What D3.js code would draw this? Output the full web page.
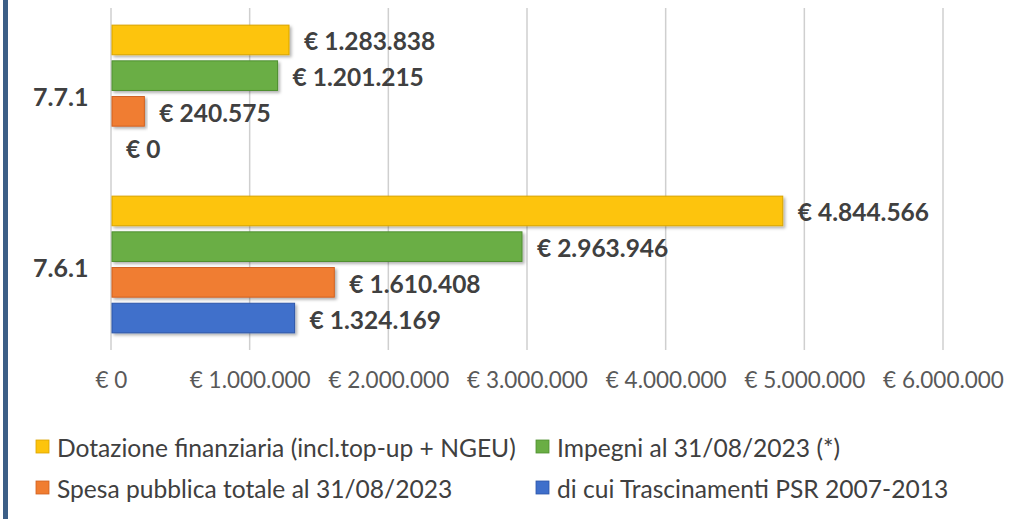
<!DOCTYPE html>
<html>
<head>
<meta charset="utf-8">
<script src="https://cdn.jsdelivr.net/npm/d3@7"></script>
<style>
  html, body { margin: 0; padding: 0; background: #fff; }
  svg { display: block; font-family: Lato, "Open Sans", sans-serif; }
</style>
</head>
<body>
<script>
// chart values
var categories = ["7.7.1", "7.6.1"];
var seriesNames = [
  "Dotazione finanziaria (incl.top-up + NGEU)",
  "Impegni al 31/08/2023 (*)",
  "Spesa pubblica totale al 31/08/2023",
  "di cui Trascinamenti PSR 2007-2013"
];
var dotazione = [1283838, 4844566];
var impegni = [1201215, 2963946];
var spesa = [240575, 1610408];
var trascinamenti = [0, 1324169];
var tickValues = [0, 1000000, 2000000, 3000000, 4000000, 5000000, 6000000];

var colors = ["#fdc40c", "#6aae44", "#f07d31", "#3f6fcb"];
var strokes = ["#d9a400", "#4f8f30", "#cf6020", "#2d56a8"];

var series = [dotazione, impegni, spesa, trascinamenti];

var w = 1025, h = 519;

var it = d3.formatLocale({decimal: ",", thousands: ".", grouping: [3], currency: ["€ ", ""]});
var euro = it.format("$,d");

var svg = d3.select("body")
  .append("svg")
  .attr("width", w)
  .attr("height", h);

// shadow for bars
var defs = svg.append("defs");
var f = defs.append("filter").attr("id", "shadow")
  .attr("x", "-5%").attr("y", "-20%").attr("width", "115%").attr("height", "160%");
f.append("feDropShadow")
  .attr("dx", 2).attr("dy", 2)
  .attr("stdDeviation", 1.5)
  .attr("flood-color", "#000")
  .attr("flood-opacity", 0.3);

// left frame strip
svg.append("rect")
  .attr("x", 3).attr("y", 0)
  .attr("width", 5).attr("height", h)
  .attr("fill", "#3c5f87");

var x = d3.scaleLinear()
  .domain([0, 6000000])
  .range([111, 943]);

var y = d3.scaleBand()
  .domain(categories)
  .range([8, 350]);

var inner = d3.scaleBand()
  .domain(d3.range(series.length))
  .range([0, y.bandwidth()])
  .paddingInner(0.17)
  .paddingOuter(0.48);

// gridlines
svg.append("g")
  .selectAll("line")
  .data(tickValues)
  .enter()
  .append("line")
  .attr("x1", function(d) { return x(d); })
  .attr("x2", function(d) { return x(d); })
  .attr("y1", 8)
  .attr("y2", 350)
  .attr("stroke", "#cfcfcf")
  .attr("stroke-width", 1.5);

// x axis labels
var xAxis = d3.axisBottom(x)
  .tickValues(tickValues)
  .tickSize(0)
  .tickPadding(0)
  .tickFormat(euro);

svg.append("g")
  .attr("transform", "translate(0,372)")
  .call(xAxis)
  .call(function(g) { g.select(".domain").remove(); })
  .selectAll("text")
  .attr("font-family", "Lato, sans-serif")
  .attr("font-size", "22.5px")
  .attr("fill", "#595959");

// category labels
svg.selectAll("text.cat")
  .data(categories)
  .enter()
  .append("text")
  .attr("class", "cat")
  .text(function(d) { return d; })
  .attr("x", 33)
  .attr("y", function(d) { return y(d) + y.bandwidth() / 2 + 2; })
  .attr("dominant-baseline", "central")
  .attr("font-size", "25px")
  .attr("font-weight", "bold")
  .attr("fill", "#404040");

// bars
var groups = svg.selectAll("g.series")
  .data(series)
  .enter()
  .append("g")
  .attr("class", "series");

groups.selectAll("rect")
  .data(function(d, si) {
    return d.map(function(v, ci) { return {s: si, c: categories[ci], v: v}; });
  })
  .enter()
  .append("rect")
  .filter(function(d) { return d.v > 0; })
  .attr("x", x(0) + 1)
  .attr("y", function(d) { return y(d.c) + inner(d.s); })
  .attr("width", function(d) { return x(d.v) - x(0) - 1; })
  .attr("height", inner.bandwidth())
  .attr("fill", function(d) { return colors[d.s]; })
  .attr("stroke", function(d) { return strokes[d.s]; })
  .attr("stroke-width", 1)
  .attr("filter", "url(#shadow)");

// value labels
groups.selectAll("text")
  .data(function(d, si) {
    return d.map(function(v, ci) { return {s: si, c: categories[ci], v: v}; });
  })
  .enter()
  .append("text")
  .text(function(d) { return euro(d.v); })
  .attr("x", function(d) { return x(d.v) + 15; })
  .attr("y", function(d) { return y(d.c) + inner(d.s) + inner.bandwidth() / 2 + 1; })
  .attr("dominant-baseline", "central")
  .attr("font-size", "24.5px")
  .attr("font-weight", "bold")
  .attr("fill", "#404040");

// legend
var legendPos = [[36, 447], [536, 447], [36, 488], [536, 488]];
var legend = svg.selectAll("g.legend")
  .data(seriesNames)
  .enter()
  .append("g")
  .attr("class", "legend")
  .attr("transform", function(d, i) { return "translate(" + legendPos[i][0] + "," + legendPos[i][1] + ")"; });

legend.append("rect")
  .attr("x", 0)
  .attr("y", -7)
  .attr("width", 13)
  .attr("height", 13)
  .attr("fill", function(d, i) { return colors[i]; })
  .attr("stroke", function(d, i) { return strokes[i]; })
  .attr("stroke-width", 0.8);

legend.append("text")
  .text(function(d) { return d; })
  .attr("x", 21)
  .attr("y", 0)
  .attr("dominant-baseline", "central")
  .attr("font-size", "24.6px")
  .attr("fill", "#404040");
</script>
</body>
</html>
